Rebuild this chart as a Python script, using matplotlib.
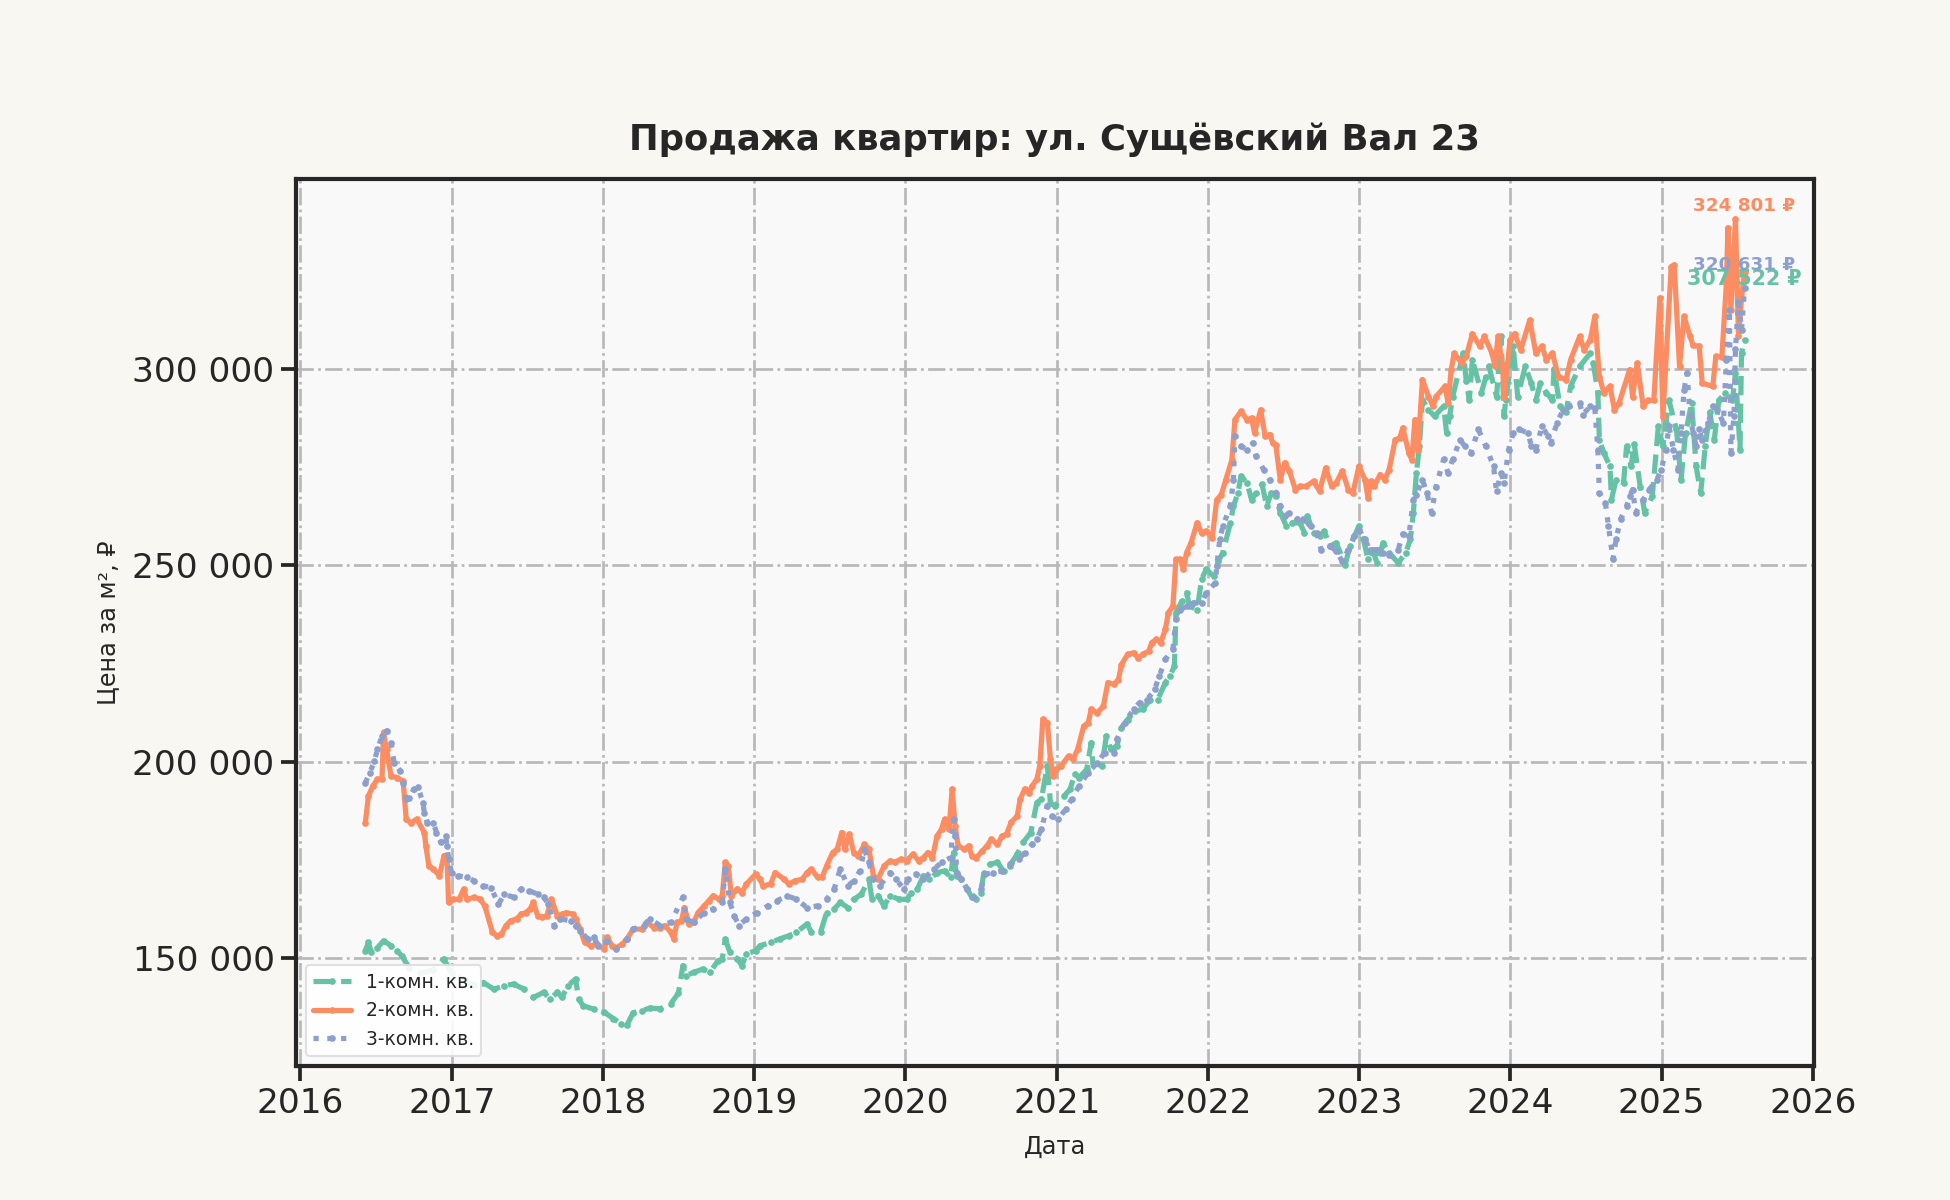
import numpy as np
import pandas as pd
import matplotlib
matplotlib.use('Agg')
import matplotlib.pyplot as plt
import matplotlib.dates as mdates
from matplotlib.ticker import MultipleLocator, FuncFormatter
import seaborn as sns

sns.set_theme(style='ticks')
plt.rcParams['font.family'] = ['DejaVu Sans']

# values are in thousand rubles per m2, time in decimal years
t1 = [2016.43, 2016.45, 2016.47, 2016.51, 2016.55, 2016.60, 2016.64, 2016.67, 2016.72, 2016.80,
      2016.88, 2016.95, 2017.00, 2017.08, 2017.15, 2017.21, 2017.28, 2017.35, 2017.41, 2017.48,
      2017.54, 2017.61, 2017.65, 2017.70, 2017.73, 2017.77, 2017.82, 2017.84, 2017.87, 2017.94,
      2018.01, 2018.07, 2018.12, 2018.16, 2018.20, 2018.26, 2018.31, 2018.38, 2018.45, 2018.50,
      2018.53, 2018.55, 2018.60, 2018.66, 2018.71, 2018.76, 2018.79, 2018.81, 2018.84, 2018.89,
      2018.92, 2018.95, 2019.01, 2019.04, 2019.11, 2019.17, 2019.23, 2019.28, 2019.35, 2019.38,
      2019.44, 2019.48, 2019.53, 2019.57, 2019.62, 2019.66, 2019.71, 2019.76, 2019.78, 2019.82,
      2019.86, 2019.90, 2019.96, 2020.01, 2020.04, 2020.08, 2020.12, 2020.16, 2020.21, 2020.26,
      2020.30, 2020.32, 2020.34, 2020.37, 2020.41, 2020.44, 2020.47, 2020.50, 2020.52, 2020.56,
      2020.61, 2020.65, 2020.69, 2020.74, 2020.78, 2020.83, 2020.87, 2020.90, 2020.94, 2020.96,
      2020.99, 2021.05, 2021.09, 2021.12, 2021.15, 2021.20, 2021.23, 2021.24, 2021.30, 2021.33,
      2021.36, 2021.40, 2021.43, 2021.47, 2021.52, 2021.57, 2021.62, 2021.67, 2021.72, 2021.75,
      2021.78, 2021.79, 2021.83, 2021.86, 2021.88, 2021.93, 2021.96, 2021.99, 2022.04, 2022.07,
      2022.10, 2022.15, 2022.17, 2022.20, 2022.22, 2022.26, 2022.29, 2022.32, 2022.36, 2022.39,
      2022.42, 2022.45, 2022.48, 2022.52, 2022.56, 2022.61, 2022.64, 2022.66, 2022.70, 2022.74,
      2022.77, 2022.81, 2022.85, 2022.91, 2022.94, 2022.97, 2023.00, 2023.03, 2023.06, 2023.09,
      2023.12, 2023.16, 2023.20, 2023.26, 2023.31, 2023.34, 2023.36, 2023.38, 2023.40, 2023.42,
      2023.46, 2023.50, 2023.56, 2023.58, 2023.60, 2023.62, 2023.69, 2023.71, 2023.73, 2023.75,
      2023.81, 2023.84, 2023.86, 2023.91, 2023.94, 2023.96, 2023.97, 2024.02, 2024.05, 2024.10,
      2024.14, 2024.17, 2024.20, 2024.24, 2024.28, 2024.29, 2024.33, 2024.37, 2024.40, 2024.46,
      2024.53, 2024.55, 2024.58, 2024.59, 2024.62, 2024.66, 2024.67, 2024.70, 2024.75, 2024.77,
      2024.80, 2024.82, 2024.86, 2024.89, 2024.94, 2024.98, 2025.01, 2025.03, 2025.05, 2025.10,
      2025.13, 2025.16, 2025.20, 2025.23, 2025.26, 2025.29, 2025.32, 2025.35, 2025.38, 2025.42,
      2025.47, 2025.49, 2025.52, 2025.53, 2025.55]
v1 = [151.8, 153.9, 151.4, 152.6, 154.3, 153.1, 151.8, 150.5, 147.5, 146.0,
      147.0, 149.7, 146.0, 144.5, 143.0, 143.7, 142.0, 142.9, 143.3, 142.0,
      139.9, 141.2, 139.5, 141.2, 139.9, 142.9, 144.6, 139.5, 137.8, 136.9,
      136.1, 134.5, 133.2, 132.8, 136.0, 136.5, 137.2, 137.0, 138.3, 141.0,
      148.0, 145.4, 146.3, 147.1, 146.3, 149.2, 149.7, 154.8, 151.4, 149.7,
      148.0, 151.0, 151.8, 153.1, 153.9, 154.8, 155.6, 156.5, 158.6, 156.5,
      156.5, 161.5, 162.4, 164.1, 162.8, 164.9, 166.2, 170.0, 164.9, 165.8,
      163.2, 165.8, 164.9, 164.9, 166.6, 167.5, 170.9, 170.0, 171.7, 172.1,
      170.5, 176.8, 170.9, 170.0, 167.5, 165.4, 164.9, 166.6, 171.7, 173.8,
      174.3, 172.1, 173.4, 176.4, 179.4, 181.9, 189.5, 190.4, 198.9, 189.5,
      188.7, 191.2, 192.9, 196.7, 195.9, 198.0, 204.8, 199.7, 198.9, 206.5,
      203.1, 204.0, 208.6, 210.7, 212.9, 213.3, 215.8, 215.8, 220.1, 221.8,
      224.3, 237.9, 240.9, 243.0, 239.6, 238.7, 246.4, 249.0, 247.2, 251.0,
      253.2, 260.8, 265.0, 268.4, 272.7, 271.0, 266.7, 268.4, 270.6, 265.0,
      268.4, 267.6, 263.4, 260.0, 260.8, 260.8, 258.3, 262.5, 258.3, 257.4,
      258.7, 254.9, 255.7, 250.2, 254.9, 257.4, 260.0, 256.6, 251.5, 254.0,
      250.6, 255.7, 253.2, 250.6, 253.2, 256.6, 263.4, 273.5, 280.3, 292.2,
      289.6, 288.0, 290.5, 283.7, 288.0, 293.0, 304.0, 297.0, 292.0, 302.4,
      294.0, 298.0, 300.7, 293.0, 308.3, 288.0, 292.0, 305.8, 293.0, 300.7,
      296.4, 292.0, 296.4, 294.0, 292.0, 300.0, 290.5, 289.0, 295.6, 300.7,
      304.0, 301.5, 294.0, 282.0, 278.6, 275.2, 266.7, 271.8, 271.0, 280.3,
      275.2, 281.0, 270.0, 263.4, 267.6, 285.4, 280.3, 286.3, 292.0, 284.6,
      271.8, 283.7, 291.3, 275.2, 268.4, 280.3, 289.0, 282.0, 292.0, 293.9,
      292.0, 299.0, 279.5, 304.0, 307.522]

t2 = [2016.43, 2016.45, 2016.48, 2016.51, 2016.54, 2016.55, 2016.57, 2016.60, 2016.64, 2016.68,
      2016.70, 2016.73, 2016.77, 2016.82, 2016.83, 2016.85, 2016.88, 2016.92, 2016.95, 2016.97,
      2016.98, 2017.01, 2017.05, 2017.08, 2017.10, 2017.15, 2017.19, 2017.22, 2017.27, 2017.30,
      2017.33, 2017.36, 2017.39, 2017.43, 2017.46, 2017.49, 2017.52, 2017.54, 2017.57, 2017.60,
      2017.63, 2017.66, 2017.70, 2017.73, 2017.76, 2017.80, 2017.82, 2017.85, 2017.88, 2017.92,
      2017.96, 2018.01, 2018.03, 2018.06, 2018.09, 2018.13, 2018.16, 2018.20, 2018.26, 2018.29,
      2018.34, 2018.38, 2018.41, 2018.45, 2018.47, 2018.49, 2018.52, 2018.54, 2018.57, 2018.60,
      2018.63, 2018.67, 2018.70, 2018.73, 2018.77, 2018.79, 2018.81, 2018.83, 2018.85, 2018.89,
      2018.92, 2018.95, 2019.01, 2019.04, 2019.06, 2019.11, 2019.14, 2019.20, 2019.23, 2019.27,
      2019.32, 2019.35, 2019.38, 2019.42, 2019.45, 2019.48, 2019.52, 2019.55, 2019.58, 2019.60,
      2019.63, 2019.66, 2019.69, 2019.73, 2019.76, 2019.79, 2019.82, 2019.86, 2019.90, 2019.93,
      2019.97, 2020.01, 2020.05, 2020.09, 2020.12, 2020.15, 2020.18, 2020.21, 2020.24, 2020.26,
      2020.29, 2020.31, 2020.33, 2020.35, 2020.39, 2020.42, 2020.44, 2020.47, 2020.51, 2020.54,
      2020.57, 2020.61, 2020.64, 2020.67, 2020.70, 2020.74, 2020.76, 2020.79, 2020.82, 2020.84,
      2020.87, 2020.89, 2020.91, 2020.94, 2020.96, 2020.98, 2021.00, 2021.03, 2021.08, 2021.11,
      2021.14, 2021.18, 2021.21, 2021.23, 2021.27, 2021.31, 2021.34, 2021.38, 2021.41, 2021.43,
      2021.47, 2021.51, 2021.54, 2021.57, 2021.61, 2021.63, 2021.66, 2021.69, 2021.72, 2021.74,
      2021.77, 2021.79, 2021.82, 2021.84, 2021.86, 2021.89, 2021.93, 2021.96, 2021.99, 2022.03,
      2022.06, 2022.09, 2022.12, 2022.16, 2022.18, 2022.22, 2022.26, 2022.29, 2022.31, 2022.35,
      2022.38, 2022.41, 2022.43, 2022.45, 2022.48, 2022.51, 2022.54, 2022.58, 2022.61, 2022.65,
      2022.70, 2022.74, 2022.78, 2022.82, 2022.85, 2022.89, 2022.93, 2022.96, 2023.00, 2023.04,
      2023.06, 2023.08, 2023.10, 2023.14, 2023.17, 2023.20, 2023.24, 2023.27, 2023.29, 2023.33,
      2023.35, 2023.37, 2023.39, 2023.42, 2023.46, 2023.49, 2023.51, 2023.57, 2023.59, 2023.61,
      2023.63, 2023.68, 2023.71, 2023.75, 2023.80, 2023.83, 2023.88, 2023.90, 2023.92, 2023.95,
      2023.96, 2024.00, 2024.03, 2024.07, 2024.13, 2024.17, 2024.21, 2024.24, 2024.28, 2024.32,
      2024.37, 2024.40, 2024.46, 2024.49, 2024.53, 2024.56, 2024.59, 2024.62, 2024.66, 2024.69,
      2024.72, 2024.79, 2024.81, 2024.84, 2024.88, 2024.91, 2024.95, 2024.99, 2025.01, 2025.065,
      2025.085, 2025.12, 2025.15, 2025.19, 2025.21, 2025.25, 2025.27, 2025.34, 2025.36, 2025.40,
      2025.43, 2025.44, 2025.46, 2025.49, 2025.51, 2025.53, 2025.55]
v2 = [184.4, 191.2, 193.8, 195.5, 195.5, 207.4, 203.1, 196.3, 195.9, 195.0,
      185.3, 184.4, 185.3, 181.9, 178.5, 173.4, 172.6, 170.9, 176.0, 176.0,
      164.1, 164.9, 164.9, 167.5, 164.9, 165.4, 164.9, 163.2, 156.5, 155.6,
      156.0, 158.2, 159.4, 159.9, 161.1, 161.5, 162.4, 164.1, 160.7, 160.3,
      160.7, 164.9, 160.7, 161.1, 161.5, 161.1, 159.9, 157.3, 153.9, 153.1,
      153.5, 152.2, 155.2, 153.1, 152.6, 153.5, 154.8, 157.3, 157.3, 159.0,
      157.7, 157.5, 158.2, 156.5, 154.8, 159.0, 159.4, 162.8, 158.6, 159.0,
      161.5, 163.2, 164.5, 165.8, 164.9, 165.8, 174.3, 173.4, 165.8, 167.5,
      166.6, 168.8, 171.3, 170.0, 168.3, 168.8, 171.7, 170.0, 168.8, 169.6,
      170.0, 171.7, 172.6, 170.5, 170.5, 173.4, 176.8, 177.7, 181.9, 177.7,
      181.5, 176.8, 176.0, 178.9, 177.7, 170.9, 170.0, 173.4, 174.7, 174.3,
      175.1, 174.7, 176.4, 174.7, 175.5, 176.8, 175.5, 181.0, 182.8, 185.3,
      182.8, 193.0, 183.6, 178.5, 177.7, 178.5, 176.0, 175.5, 177.2, 178.5,
      180.2, 178.9, 181.0, 181.5, 184.5, 186.1, 190.4, 193.0, 192.1, 193.8,
      195.5, 198.9, 210.8, 209.9, 200.6, 196.3, 198.0, 198.9, 201.4, 200.6,
      203.1, 209.0, 209.9, 213.3, 212.4, 214.1, 220.1, 219.7, 220.9, 224.7,
      227.3, 227.7, 226.4, 227.3, 228.1, 230.3, 231.1, 230.3, 233.7, 237.9,
      239.6, 251.5, 251.5, 249.0, 253.2, 255.7, 260.8, 258.3, 258.7, 257.0,
      266.7, 268.0, 271.8, 276.9, 287.1, 289.2, 287.1, 287.5, 283.7, 289.6,
      282.9, 283.3, 281.2, 280.7, 271.8, 276.1, 274.0, 269.3, 270.1, 270.1,
      271.4, 268.9, 274.8, 270.1, 271.0, 274.0, 269.3, 268.4, 275.2, 271.8,
      267.2, 271.4, 270.1, 273.1, 271.8, 274.4, 282.0, 282.4, 285.0, 278.6,
      276.9, 287.1, 279.5, 297.3, 293.0, 290.5, 293.0, 295.6, 291.3, 299.8,
      304.0, 301.5, 303.2, 309.0, 305.8, 308.3, 304.0, 300.7, 308.3, 300.7,
      293.0, 307.5, 309.0, 304.9, 312.5, 304.0, 305.8, 302.4, 304.0, 298.0,
      297.3, 302.4, 308.3, 304.9, 307.5, 313.4, 298.0, 294.0, 295.6, 289.6,
      291.3, 299.8, 293.0, 301.5, 290.5, 292.0, 292.0, 318.1, 287.9, 326.1,
      326.5, 300.7, 313.4, 308.3, 306.0, 305.8, 296.4, 295.6, 303.2, 303.0,
      321.9, 336.0, 315.0, 338.2, 308.3, 318.0, 324.801]

t3 = [2016.43, 2016.46, 2016.49, 2016.51, 2016.54, 2016.57, 2016.60, 2016.62, 2016.66, 2016.68,
      2016.70, 2016.72, 2016.75, 2016.78, 2016.81, 2016.82, 2016.84, 2016.88, 2016.90, 2016.93,
      2016.96, 2016.97, 2016.98, 2017.00, 2017.04, 2017.10, 2017.15, 2017.21, 2017.26, 2017.31,
      2017.35, 2017.41, 2017.46, 2017.51, 2017.57, 2017.61, 2017.64, 2017.68, 2017.72, 2017.79,
      2017.82, 2017.85, 2017.90, 2017.94, 2017.97, 2018.03, 2018.09, 2018.16, 2018.20, 2018.27,
      2018.31, 2018.38, 2018.45, 2018.53, 2018.55, 2018.60, 2018.67, 2018.73, 2018.79, 2018.81,
      2018.84, 2018.87, 2018.90, 2018.95, 2019.02, 2019.09, 2019.15, 2019.22, 2019.28, 2019.35,
      2019.42, 2019.48, 2019.53, 2019.57, 2019.62, 2019.66, 2019.70, 2019.73, 2019.76, 2019.79,
      2019.83, 2019.90, 2019.94, 2019.99, 2020.02, 2020.07, 2020.12, 2020.19, 2020.24, 2020.30,
      2020.32, 2020.33, 2020.34, 2020.37, 2020.41, 2020.45, 2020.50, 2020.53, 2020.58, 2020.64,
      2020.69, 2020.75, 2020.79, 2020.84, 2020.87, 2020.90, 2020.94, 2020.97, 2021.01, 2021.06,
      2021.10, 2021.15, 2021.21, 2021.27, 2021.32, 2021.38, 2021.40, 2021.45, 2021.51, 2021.55,
      2021.60, 2021.65, 2021.68, 2021.72, 2021.77, 2021.79, 2021.82, 2021.86, 2021.90, 2021.96,
      2021.99, 2022.05, 2022.06, 2022.08, 2022.10, 2022.15, 2022.17, 2022.18, 2022.22, 2022.26,
      2022.30, 2022.32, 2022.37, 2022.41, 2022.45, 2022.48, 2022.51, 2022.54, 2022.59, 2022.63,
      2022.68, 2022.72, 2022.75, 2022.81, 2022.85, 2022.89, 2022.93, 2022.97, 2023.00, 2023.04,
      2023.07, 2023.12, 2023.16, 2023.20, 2023.26, 2023.29, 2023.33, 2023.36, 2023.38, 2023.42,
      2023.45, 2023.48, 2023.51, 2023.56, 2023.59, 2023.62, 2023.67, 2023.70, 2023.74, 2023.79,
      2023.84, 2023.89, 2023.91, 2023.94, 2023.96, 2023.99, 2024.02, 2024.06, 2024.12, 2024.14,
      2024.17, 2024.21, 2024.25, 2024.27, 2024.31, 2024.35, 2024.39, 2024.46, 2024.48, 2024.53,
      2024.56, 2024.58, 2024.59, 2024.63, 2024.65, 2024.68, 2024.70, 2024.73, 2024.77, 2024.79,
      2024.81, 2024.83, 2024.88, 2024.92, 2024.97, 2025.00, 2025.03, 2025.05, 2025.08, 2025.11,
      2025.13, 2025.15, 2025.17, 2025.19, 2025.21, 2025.23, 2025.25, 2025.27, 2025.31, 2025.34,
      2025.37, 2025.41, 2025.43, 2025.45, 2025.46, 2025.48, 2025.49, 2025.51, 2025.53, 2025.55]
v3 = [194.6, 197.2, 200.1, 203.1, 206.5, 207.8, 204.8, 199.7, 197.6, 194.6,
      190.4, 190.8, 192.9, 193.4, 189.5, 187.0, 184.4, 184.4, 181.9, 179.4,
      181.1, 178.5, 175.1, 171.7, 170.9, 170.5, 169.6, 168.3, 167.9, 163.7,
      166.2, 165.4, 167.5, 167.1, 166.2, 165.4, 163.7, 158.2, 159.9, 159.4,
      158.2, 156.9, 154.8, 155.2, 153.1, 154.3, 152.2, 154.8, 157.3, 158.2,
      159.9, 158.2, 159.0, 165.4, 159.9, 159.0, 161.5, 162.4, 164.1, 172.6,
      164.1, 160.7, 158.2, 159.9, 161.5, 163.2, 164.5, 165.8, 164.9, 162.8,
      163.2, 164.9, 167.5, 172.6, 168.3, 169.6, 172.1, 177.7, 174.3, 170.0,
      168.3, 171.7, 170.0, 167.5, 170.0, 171.3, 170.0, 172.6, 174.3, 175.5,
      185.3, 181.0, 171.7, 170.0, 167.5, 165.4, 167.5, 171.3, 171.7, 172.1,
      173.8, 175.1, 176.8, 178.9, 180.2, 182.8, 188.7, 186.1, 185.3, 187.8,
      190.4, 193.8, 197.2, 199.7, 202.3, 202.3, 205.7, 209.9, 213.3, 215.0,
      215.8, 218.4, 221.8, 226.0, 228.6, 236.2, 238.7, 239.6, 240.4, 240.4,
      243.0, 245.5, 249.8, 256.6, 260.0, 265.0, 271.8, 282.9, 280.3, 279.5,
      281.2, 277.8, 274.4, 271.8, 268.4, 265.0, 262.5, 263.4, 261.7, 261.7,
      260.0, 258.3, 254.0, 254.9, 253.6, 251.0, 254.0, 257.4, 259.1, 256.6,
      254.0, 254.0, 253.2, 252.7, 254.0, 258.0, 257.4, 266.7, 268.0, 271.8,
      268.4, 263.4, 270.0, 277.0, 273.5, 277.0, 282.0, 280.3, 278.6, 284.6,
      280.3, 275.2, 268.9, 273.5, 271.0, 279.5, 283.7, 284.6, 283.7, 280.3,
      279.5, 285.4, 282.9, 281.2, 286.3, 289.6, 290.5, 291.3, 288.4, 290.5,
      290.0, 279.5, 268.4, 265.9, 260.0, 251.5, 256.6, 261.7, 265.0, 267.6,
      269.3, 263.4, 266.7, 269.3, 271.8, 274.4, 279.5, 285.4, 279.5, 274.4,
      283.7, 294.7, 299.0, 288.0, 283.7, 280.3, 284.6, 282.0, 286.3, 290.5,
      289.6, 286.3, 302.4, 315.0, 278.6, 288.0, 305.0, 317.0, 310.0, 320.631]

labels = ['1-комн. кв.', '2-комн. кв.', '3-комн. кв.']
colors = ['#66c2a5', '#fc8d62', '#8da0cb']
styles = ['--', '-', ':']


def to_dates(years):
    years = np.asarray(years, dtype=float)
    return pd.Timestamp('2016-01-01') + pd.to_timedelta((years - 2016) * 365.25, unit='D')


def fmt_rub(v):
    return f'{v:,.0f}'.replace(',', ' ') + ' ₽'


series = [(t1, v1), (t2, v2), (t3, v3)]

fig, ax = plt.subplots(figsize=(13, 8), dpi=150)
fig.patch.set_facecolor('#f8f7f2')
ax.set_facecolor('#f9f9fa')
fig.subplots_adjust(left=0.152, right=0.930, top=0.851, bottom=0.112)

for (t, v), lab, col, ls in zip(series, labels, colors, styles):
    ax.plot(to_dates(t), np.array(v) * 1000, ls=ls, color=col, lw=2.5,
            marker='o', ms=2.2, label=lab)

# last values
label_y = [322900, 341600, 326500]
label_fs = [9.9, 8.8, 8.8]
for (t, v), col, ly, fs in zip(series, colors, label_y, label_fs):
    ax.text(to_dates([t[-1]])[0], ly, fmt_rub(v[-1] * 1000), color=col,
            fontsize=fs, fontweight='bold', ha='center', va='center')

ax.xaxis.set_major_locator(mdates.YearLocator())
ax.xaxis.set_major_formatter(mdates.DateFormatter('%Y'))
ax.yaxis.set_major_locator(MultipleLocator(50000))
ax.yaxis.set_major_formatter(FuncFormatter(lambda x, p: f'{x:,.0f}'.replace(',', ' ')))

ax.grid(True, ls='-.', color='#b8b8b8', lw=1.3)
ax.set_axisbelow(True)
for sp in ax.spines.values():
    sp.set_visible(True)
    sp.set_linewidth(2.0)
    sp.set_color('#262626')
ax.tick_params(labelsize=16.5, length=7, width=1.8, color='#262626', labelcolor='#262626')

ax.set_title('Продажа квартир: ул. Сущёвский Вал 23', fontsize=17, fontweight='bold',
             color='#262626', pad=14)
ax.set_xlabel('Дата', fontsize=11.5, color='#262626', labelpad=7)
ax.set_ylabel('Цена за м², ₽', fontsize=11.5, color='#262626', labelpad=6)

leg = ax.legend(loc='lower left', fontsize=9, frameon=True, facecolor='white',
                edgecolor='#dddddd', framealpha=0.9)

fig.savefig('out.png', dpi=150, facecolor=fig.get_facecolor())
